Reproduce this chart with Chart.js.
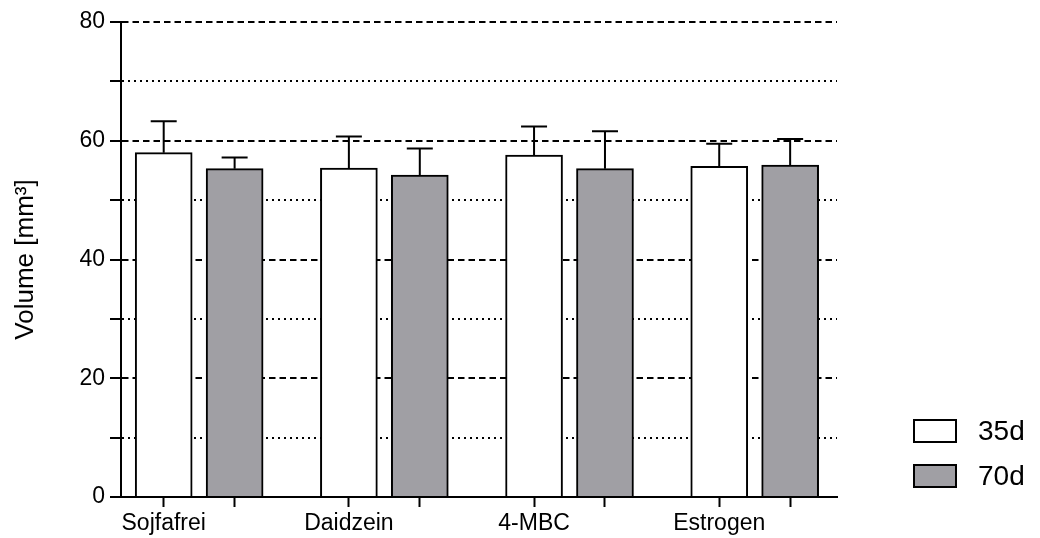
<!DOCTYPE html>
<html>
<head>
<meta charset="utf-8">
<script src="https://cdn.jsdelivr.net/npm/chart.js@4"></script>
<style>
  body { margin: 0; background: #fff; }
  #wrap { width: 1040px; height: 538px; position: relative; }
</style>
</head>
<body>
<div id="wrap"><canvas id="myChart"></canvas></div>
<script>
// data
const groups = ["Sojfafrei", "Daidzein", "4-MBC", "Estrogen"];
const seriesNames = ["35d", "70d"];
const mean35 = [58.0, 55.4, 57.6, 55.7];
const sd35 = [5.3, 5.3, 4.8, 3.8];
const mean70 = [55.3, 54.2, 55.3, 55.9];
const sd70 = [1.9, 4.5, 6.3, 4.4];
const yTicks = [0, 20, 40, 60, 80];

// second bar sits this far (in group units) right of the first one
const barShift = 0.383;

const fillColors = ['#ffffff', '#a09fa4'];

function makePoints(values, shift) {
  return values.map((v, i) => ({ x: i + shift, y: v }));
}

function gridDash(c) {
  if (!c.tick) return [];
  return yTicks.includes(c.tick.value) ? [6.5, 4] : [2, 4];
}

// upper error bars, drawn through the scales
const errorBars = {
  id: 'errorBars',
  afterDatasetsDraw(chart) {
    const ctx = chart.ctx;
    const yScale = chart.scales.y;
    chart.data.datasets.forEach((ds, di) => {
      const meta = chart.getDatasetMeta(di);
      meta.data.forEach((bar, i) => {
        const top = yScale.getPixelForValue(ds.data[i].y + ds.sd[i]);
        ctx.save();
        ctx.strokeStyle = '#000';
        ctx.lineWidth = 2;
        ctx.beginPath();
        ctx.moveTo(bar.x, bar.y);
        ctx.lineTo(bar.x, top);
        ctx.moveTo(bar.x - 13, top);
        ctx.lineTo(bar.x + 13, top);
        ctx.stroke();
        ctx.restore();
      });
    });
  }
};

// legend in the lower right corner
const sideLegend = {
  id: 'sideLegend',
  afterDraw(chart) {
    const ctx = chart.ctx;
    const area = chart.chartArea;
    chart.data.datasets.forEach((ds, i) => {
      const bx = area.right + 77;
      const cy = area.bottom - 66 + i * 45;
      ctx.save();
      ctx.fillStyle = ds.backgroundColor;
      ctx.fillRect(bx, cy - 11, 42, 22);
      ctx.strokeStyle = '#000';
      ctx.lineWidth = 2;
      ctx.strokeRect(bx, cy - 11, 42, 22);
      ctx.fillStyle = '#000';
      ctx.font = '28px "Liberation Sans", Arial, sans-serif';
      ctx.textBaseline = 'middle';
      ctx.fillText(ds.label, bx + 64, cy + 1);
      ctx.restore();
    });
  }
};

Chart.defaults.color = '#000';
Chart.defaults.font.family = '"Liberation Sans", Arial, sans-serif';

const ctx = document.getElementById('myChart').getContext('2d');
const chart = new Chart(ctx, {
  type: 'bar',
  data: {
    datasets: [
      {
        label: seriesNames[0],
        data: makePoints(mean35, 0),
        sd: sd35,
        grouped: false,
        barThickness: 57,
        backgroundColor: fillColors[0],
        borderColor: '#000',
        borderWidth: 2
      },
      {
        label: seriesNames[1],
        data: makePoints(mean70, barShift),
        sd: sd70,
        grouped: false,
        barThickness: 57,
        backgroundColor: fillColors[1],
        borderColor: '#000',
        borderWidth: 2
      }
    ]
  },
  options: {
    responsive: true,
    maintainAspectRatio: false,
    animation: false,
    layout: { padding: { left: 0, right: 203, top: 22, bottom: 0 } },
    plugins: {
      legend: { display: false },
      tooltip: { enabled: false }
    },
    scales: {
      x: {
        type: 'linear',
        offset: false,
        min: -0.2306,
        max: 3.636,
        afterBuildTicks(scale) {
          const t = [];
          groups.forEach((g, i) => {
            t.push({ value: i });
            t.push({ value: i + barShift });
          });
          scale.ticks = t;
        },
        afterFit(scale) { scale.height = 41; },
        ticks: {
          autoSkip: false,
          maxRotation: 0,
          padding: 3,
          font: { size: 23 },
          callback: (v, idx) => (idx % 2 === 0 ? groups[idx / 2] : '')
        },
        grid: {
          offset: false,
          drawOnChartArea: false,
          drawTicks: true,
          tickLength: 10,
          tickColor: '#000',
          tickWidth: 2
        },
        border: { color: '#000', width: 2 }
      },
      y: {
        min: 0,
        max: 80,
        afterFit(scale) { scale.width = 121; },
        ticks: {
          stepSize: 10,
          padding: 5,
          font: { size: 23 },
          callback: (v) => (yTicks.includes(v) ? v : '')
        },
        grid: {
          color: '#000',
          lineWidth: 2,
          tickLength: 11,
          tickColor: '#000',
          tickWidth: 2,
          tickBorderDash: [],
          borderDash: gridDash
        },
        border: {
          color: '#000',
          width: 2,
          dash: gridDash
        },
        title: {
          display: true,
          text: 'Volume [mm³]',
          font: { size: 26 },
          padding: { top: 10, bottom: 0 }
        }
      }
    }
  },
  plugins: [errorBars, sideLegend]
});
</script>
</body>
</html>
